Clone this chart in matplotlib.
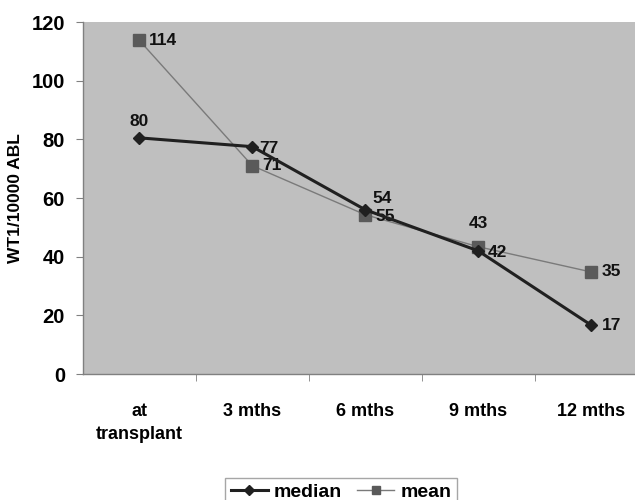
import numpy as np
import matplotlib
matplotlib.use("Agg")
import matplotlib.pyplot as plt

categories = ["at\ntransplant", "3 mths", "6 mths", "9 mths", "12 mths"]
median = [80.5, 77.5, 56, 42, 16.7]
mean = [113.7, 71, 54.3, 43.4, 34.8]
median_labels = ["80", "77", "54", "42", "17"]
mean_labels = ["114", "71", "55", "43", "35"]
y_ticks = [0, 20, 40, 60, 80, 100, 120]

# label offsets in points (dx, dy, ha)
median_off = [(0, 12, "center"), (5, -1, "left"), (5, 8, "left"), (7, -1, "left"), (8, 0, "left")]
mean_off = [(7, 0, "left"), (7, 0, "left"), (7, -1, "left"), (0, 17, "center"), (8, 0, "left")]

font = ["Liberation Sans", "DejaVu Sans"]
plt.rcParams["font.family"] = font

fig = plt.figure(figsize=(6.35, 5.0), dpi=100)
ax = fig.add_axes([0.1307, 0.252, 0.8693, 0.704])
ax.set_facecolor("#bfbfbf")

x = np.arange(len(categories))
ax.plot(x, mean, color="#7a7a7a", linewidth=1, marker="s", markersize=8,
        markerfacecolor="#5a5a5a", markeredgecolor="#5a5a5a", label="mean", zorder=3)
ax.plot(x, median, color="#202020", linewidth=2.2, marker="D", markersize=6,
        markerfacecolor="#202020", markeredgecolor="#202020", label="median", zorder=4)

for i in range(len(x)):
    dx, dy, ha = median_off[i]
    ax.annotate(median_labels[i], (x[i], median[i]), xytext=(dx, dy), textcoords="offset points",
                ha=ha, va="center", fontsize=12.5, fontweight="bold", color="#111111")
    dx, dy, ha = mean_off[i]
    ax.annotate(mean_labels[i], (x[i], mean[i]), xytext=(dx, dy), textcoords="offset points",
                ha=ha, va="center", fontsize=12.5, fontweight="bold", color="#111111")

ax.set_xlim(-0.5, 4.39)
ax.set_ylim(0, 120)
ax.set_yticks(y_ticks)
ax.set_yticklabels([str(v) for v in y_ticks], fontsize=14.5, fontweight="bold")
ax.set_xticks(x)
ax.set_xticklabels(categories, fontsize=13, fontweight="bold", linespacing=1.45)
ax.set_xticks(np.arange(0.5, 4, 1), minor=True)
ax.tick_params(axis="x", which="major", length=0, pad=21)
ax.tick_params(axis="x", which="minor", length=5, color="#808080", direction="out")
ax.tick_params(axis="y", length=5, color="#808080", direction="out", pad=8)

for s in ["top", "right"]:
    ax.spines[s].set_visible(False)
for s in ["left", "bottom"]:
    ax.spines[s].set_color("#808080")
    ax.spines[s].set_linewidth(1)

ax.set_ylabel("WT1/10000 ABL", fontsize=12.5, fontweight="bold", labelpad=6)

h, l = ax.get_legend_handles_labels()
leg = fig.legend(h[::-1], l[::-1], loc="upper center", bbox_to_anchor=(0.537, 0.064),
                 ncol=2, frameon=True, fancybox=False, edgecolor="#909090",
                 prop={"weight": "bold", "size": 14},
                 handlelength=1.9, columnspacing=0.8, handletextpad=0.3, borderpad=0.3,
                 markerscale=0.8)
leg.get_frame().set_linewidth(1)

fig.savefig("out.png", dpi=100)
plt.close(fig)
